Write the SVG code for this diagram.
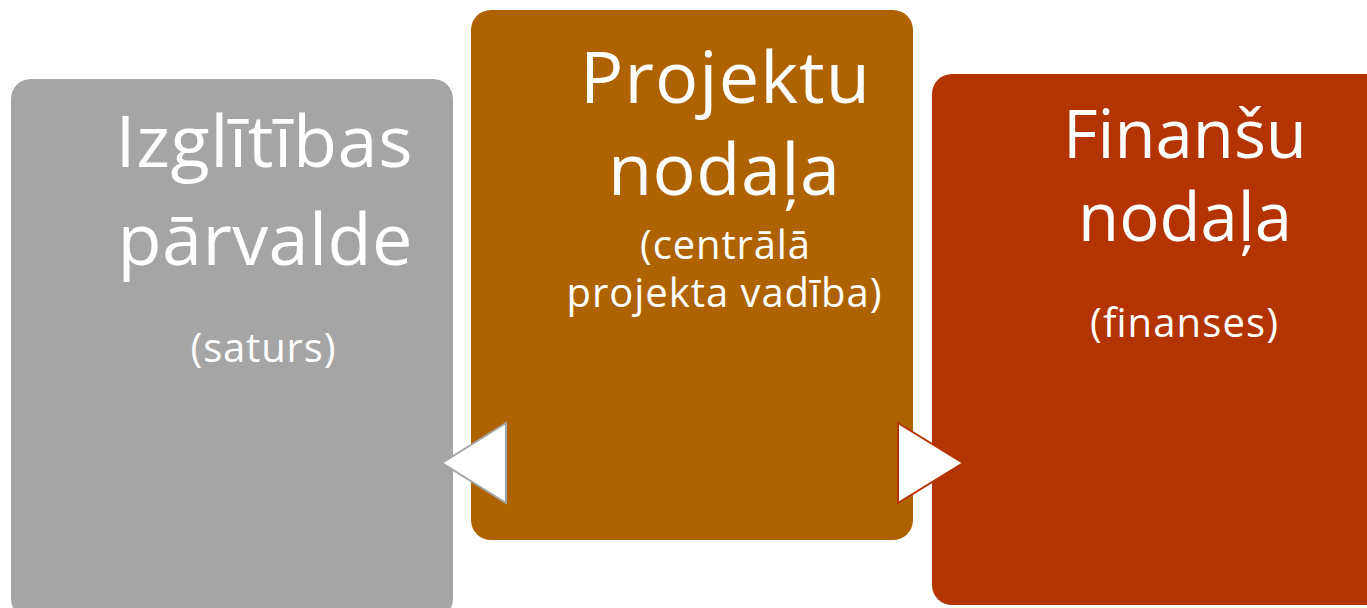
<svg xmlns="http://www.w3.org/2000/svg" width="1367" height="608" viewBox="0 0 1367 608">
<style>
text{font-family:"Open Sans","Noto Sans","DejaVu Sans",sans-serif;fill:#ffffff;text-anchor:middle}
.big{font-size:72px}
.mid{font-size:67px}
.small{font-size:40px}
</style>
<rect width="1367" height="608" fill="#ffffff"/>
<g id="node-izglitibas">
<rect x="11" y="79" width="442" height="540" rx="20" fill="#a5a5a5"/>
<text class="big" x="264" y="167" textLength="297">Izglītības</text>
<text class="big" x="265" y="265" textLength="295">pārvalde</text>
<text class="small" x="263" y="362" textLength="145">(saturs)</text>
</g>
<g id="node-projektu">
<rect x="471" y="10" width="442" height="530" rx="20" fill="#ae6300"/>
<text class="big" x="725" y="103" textLength="290">Projektu</text>
<text class="big" x="724" y="195" textLength="232">nodaļa</text>
<text class="small" x="725" y="259" textLength="170">(centrālā</text>
<text class="small" x="724" y="307" textLength="315">projekta vadība)</text>
</g>
<g id="node-finansu">
<rect x="932" y="74" width="455" height="531" rx="20" fill="#b33400"/>
<text class="mid" x="1185" y="158">Finanšu</text>
<text class="mid" x="1185" y="241">nodaļa</text>
<text class="small" x="1184" y="337" textLength="188">(finanses)</text>
</g>
<g id="connectors">
<polygon points="442,463 506,423 506,503" fill="#ffffff" stroke="#a5a5a5" stroke-width="2"/>
<polygon points="963,463 898,423 898,503" fill="#ffffff" stroke="#b33400" stroke-width="2"/>
</g>
</svg>
